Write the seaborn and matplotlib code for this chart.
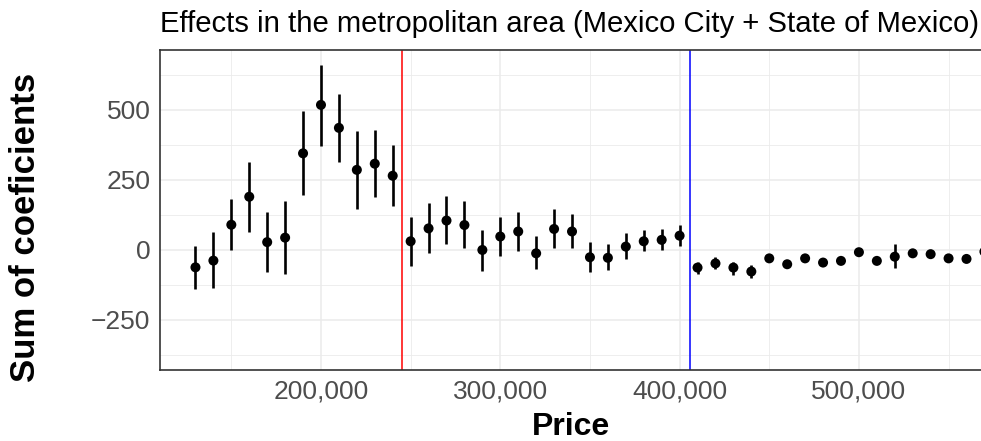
import matplotlib
matplotlib.use("Agg")
import matplotlib.pyplot as plt
import matplotlib.ticker as mticker
import seaborn as sns
import pandas as pd
import numpy as np

# ---- data ----
price = [130000, 140000, 150000, 160000, 170000, 180000, 190000, 200000, 210000, 220000,
         230000, 240000, 250000, 260000, 270000, 280000, 290000, 300000, 310000, 320000,
         330000, 340000, 350000, 360000, 370000, 380000, 390000, 400000, 410000, 420000,
         430000, 440000, 450000, 460000, 470000, 480000, 490000, 500000, 510000, 520000,
         530000, 540000, 550000, 560000, 570000]
estimate = [-62, -38, 90, 190, 28, 44, 345, 518, 436, 286,
            308, 265, 31, 77, 105, 89, 0, 48, 66, -12,
            75, 66, -26, -28, 12, 31, 36, 51, -63, -48,
            -63, -77, -30, -51, -30, -45, -39, -8, -39, -24,
            -12, -15, -30, -32, -6]
lower = [-141, -136, -1, 65, -79, -85, 195, 372, 314, 148,
         188, 157, -56, -12, 22, 8, -74, -20, -2, -67,
         6, 6, -79, -73, -32, -5, 1, 15, -87, -68,
         -89, -101, -38, -60, -38, -52, -46, -16, -48, -65,
         -19, -22, -36, -38, -12]
upper = [15, 63, 181, 313, 136, 175, 495, 662, 557, 426,
         427, 375, 118, 169, 193, 174, 72, 116, 137, 49,
         145, 127, 29, 20, 60, 70, 74, 90, -42, -24,
         -42, -54, -22, -42, -22, -38, -32, 0, -30, 20,
         -5, -8, -24, -26, 0]
vline_red = 245400
vline_blue = 405900
x_ticks = [200000, 300000, 400000, 500000]
y_ticks = [-250, 0, 250, 500]

df = pd.DataFrame({"price": price, "estimate": estimate, "lower": lower, "upper": upper})

sns.set_theme(style="white")
plt.rcParams["font.family"] = ["Liberation Sans", "DejaVu Sans"]

W, H = 981, 441
fig = plt.figure(figsize=(W / 100, H / 100), dpi=100)
L, R, T, B = 159.6, 983, 50, 370
ax = fig.add_axes([L / W, (H - B) / H, (R - L) / W, (B - T) / H])

# grid
ax.set_xlim(110000, 569200)
ax.set_ylim(-428.6, 714)
ax.xaxis.set_major_locator(mticker.FixedLocator(x_ticks))
ax.yaxis.set_major_locator(mticker.FixedLocator(y_ticks))
ax.xaxis.set_minor_locator(mticker.FixedLocator([150000, 250000, 350000, 450000, 550000]))
ax.yaxis.set_minor_locator(mticker.FixedLocator([-375, -125, 125, 375, 625]))
ax.grid(which="major", color="#EBEBEB", lw=1.1)
ax.grid(which="minor", color="#EBEBEB", lw=0.6)
ax.set_axisbelow(True)

ax.axvline(vline_red, color="red", lw=1.1, zorder=2)
ax.axvline(vline_blue, color="blue", lw=1.1, zorder=2)

ax.vlines(df["price"], df["lower"], df["upper"], color="black", lw=1.9, zorder=3)
sns.scatterplot(data=df, x="price", y="estimate", color="black", s=52, edgecolor="none",
                linewidth=0, ax=ax, zorder=4)

ax.xaxis.set_major_formatter(mticker.FuncFormatter(lambda v, p: f"{int(v):,}"))
ax.tick_params(axis="both", which="major", length=3.6, width=1.0, color="#333333",
               labelsize=19, labelcolor="#4D4D4D", pad=3)
ax.tick_params(axis="both", which="minor", length=0)
for s in ax.spines.values():
    s.set_color("#333333")
    s.set_linewidth(1.2)
ax.set_xlabel("")
ax.set_ylabel("")

fig.text(160 / W, 1 - 31.7 / H, "Effects in the metropolitan area (Mexico City + State of Mexico)",
         fontsize=21.1, color="black", ha="left", va="baseline")
fig.text(571.5 / W, 1 - 435 / H, "Price", fontsize=23, fontweight="bold", color="black",
         ha="center", va="baseline")
fig.text(26 / W, 1 - 227.5 / H, "Sum of coeficients", fontsize=25, fontweight="bold",
         color="black", rotation=90, ha="center", va="center")

fig.savefig("out.png", dpi=100)
